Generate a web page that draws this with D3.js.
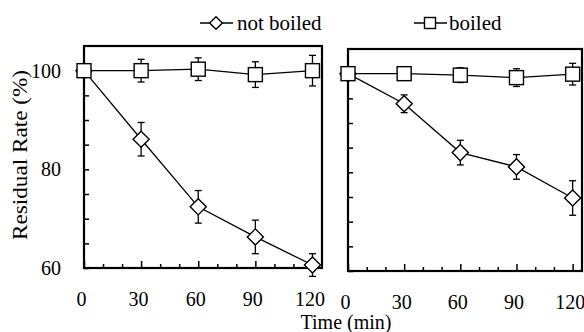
<!DOCTYPE html>
<html>
<head>
<meta charset="utf-8">
<script src="https://cdn.jsdelivr.net/npm/d3@7"></script>
<style>
  html, body { margin: 0; padding: 0; background: #fff; }
</style>
</head>
<body>
<div id="chart"></div>
<script>
// values
const times = [0, 30, 60, 90, 120];
const xTickLabels = [0, 30, 60, 90, 120];
const yTickLabels = [60, 80, 100];

const leftNotBoiled = [100, 86.1, 72.4, 66.3, 60.6];
const leftNotBoiledErr = [0, 3.4, 3.3, 3.4, 2.3];
const leftBoiled = [100, 100, 100.3, 99.2, 100];
const leftBoiledErr = [0, 2.3, 2.3, 2.6, 3.1];

const rightNotBoiled = [100, 93.9, 84, 81.1, 74.8];
const rightNotBoiledErr = [0, 1.8, 2.5, 2.5, 3.5];
const rightBoiled = [100, 100, 99.7, 99.2, 99.9];
const rightBoiledErr = [0, 1.2, 1.5, 1.8, 2.2];

const legendLabels = ['not boiled', 'boiled'];

const width = 584, height = 332;
const serif = "'Liberation Serif', 'Times New Roman', serif";

const svg = d3.select('#chart').append('svg')
  .attr('width', width)
  .attr('height', height)
  .style('font-family', serif);

// panel boxes (the scanned figure is slightly skewed, so each has its own box)
const panels = [
  { x0: 84, x1: 322, y0: 46, y1: 268, labels: true,
    series: [
      { vals: leftNotBoiled, err: leftNotBoiledErr, shape: 'diamond' },
      { vals: leftBoiled, err: leftBoiledErr, shape: 'square' },
    ] },
  { x0: 348, x1: 582, y0: 49, y1: 271, labels: false,
    series: [
      { vals: rightNotBoiled, err: rightNotBoiledErr, shape: 'diamond' },
      { vals: rightBoiled, err: rightBoiledErr, shape: 'square' },
    ] },
];

function marker(sel, shape, size) {
  const h = size / 2;
  if (shape === 'square') {
    sel.append('rect')
      .attr('x', -h).attr('y', -h)
      .attr('width', size).attr('height', size)
      .attr('fill', '#fff').attr('stroke', '#000').attr('stroke-width', 1.4);
  } else {
    const d = h * 1.15;
    sel.append('path')
      .attr('d', `M0,${-d}L${d},0L0,${d}L${-d},0Z`)
      .attr('fill', '#fff').attr('stroke', '#000').attr('stroke-width', 1.4);
  }
}

panels.forEach((p) => {
  const x = d3.scaleLinear().domain([0, 125]).range([p.x0, p.x1]);
  const y = d3.scaleLinear().domain([60, 105]).range([p.y1, p.y0]);

  const g = svg.append('g');

  // y axis, ticks every 5 pointing inwards
  const yAxis = g.append('g')
    .attr('transform', `translate(${p.x0},0)`)
    .call(d3.axisLeft(y)
      .tickValues(d3.range(60, 101, 5))
      .tickSizeInner(-5)
      .tickSizeOuter(0)
      .tickPadding(23)
      .tickFormat(d => (p.labels && yTickLabels.includes(d)) ? d : ''));
  yAxis.attr('font-family', null).attr('font-size', null);
  yAxis.select('.domain').remove();
  yAxis.selectAll('line').attr('stroke-width', 1.5);
  yAxis.selectAll('text')
    .style('font-family', serif)
    .style('font-size', '20px')
    .attr('fill', '#000');

  // x axis, ticks every 10 pointing inwards, longer at every 30
  const xAxis = g.append('g')
    .attr('transform', `translate(0,${p.y1})`)
    .call(d3.axisBottom(x)
      .tickValues(d3.range(0, 121, 10))
      .tickSizeInner(-4)
      .tickSizeOuter(0)
      .tickFormat(d => xTickLabels.includes(d) ? d : ''));
  xAxis.attr('font-family', null).attr('font-size', null);
  xAxis.select('.domain').remove();
  xAxis.selectAll('.tick line')
    .attr('stroke-width', 1.5)
    .attr('y2', d => (d % 30 === 0 ? -7 : -4));
  xAxis.selectAll('.tick text')
    .style('font-family', serif)
    .style('font-size', '20px')
    .attr('fill', '#000')
    .attr('dx', -3)
    .attr('y', 38)
    .attr('dy', 0);

  // frame
  g.append('rect')
    .attr('x', p.x0).attr('y', p.y0)
    .attr('width', p.x1 - p.x0).attr('height', p.y1 - p.y0)
    .attr('fill', 'none').attr('stroke', '#000').attr('stroke-width', 2.2);

  const line = d3.line()
    .x((d, i) => x(times[i]))
    .y(d => y(d));

  p.series.forEach((s) => {
    // error bars
    times.forEach((t, i) => {
      if (!s.err[i]) return;
      const cx = x(t);
      const top = y(s.vals[i] + s.err[i]);
      const bot = y(s.vals[i] - s.err[i]);
      g.append('line')
        .attr('x1', cx).attr('x2', cx).attr('y1', top).attr('y2', bot)
        .attr('stroke', '#000').attr('stroke-width', 1.3);
      [top, bot].forEach((yy) => {
        g.append('line')
          .attr('x1', cx - 3.5).attr('x2', cx + 3.5).attr('y1', yy).attr('y2', yy)
          .attr('stroke', '#000').attr('stroke-width', 1.3);
      });
    });

    g.append('path')
      .datum(s.vals)
      .attr('fill', 'none')
      .attr('stroke', '#000')
      .attr('stroke-width', 1.3)
      .attr('d', line);
  });

  p.series.forEach((s) => {
    s.vals.forEach((v, i) => {
      const m = g.append('g').attr('transform', `translate(${x(times[i])},${y(v)})`);
      marker(m, s.shape, 14);
    });
  });
});

// legend
const legendItems = [
  { label: legendLabels[0], shape: 'diamond', x: 200 },
  { label: legendLabels[1], shape: 'square', x: 414 },
];
legendItems.forEach((item) => {
  const lg = svg.append('g').attr('transform', `translate(${item.x},23)`);
  lg.append('line')
    .attr('x1', 0).attr('x2', 33).attr('y1', 0).attr('y2', 0)
    .attr('stroke', '#000').attr('stroke-width', 1.3);
  const m = lg.append('g').attr('transform', 'translate(16,0)');
  marker(m, item.shape, 11);
  lg.append('text')
    .attr('x', item.shape === 'diamond' ? 37 : 35)
    .attr('y', 7)
    .style('font-family', serif)
    .style('font-size', '21px')
    .attr('fill', '#000')
    .text(item.label);
});

// axis titles
svg.append('text')
  .attr('x', 346)
  .attr('y', 329)
  .attr('text-anchor', 'middle')
  .style('font-size', '20px')
  .attr('fill', '#000')
  .text('Time (min)');

svg.append('text')
  .attr('transform', 'translate(27,155) rotate(-90)')
  .attr('text-anchor', 'middle')
  .style('font-size', '20px')
  .attr('textLength', 170)
  .attr('lengthAdjust', 'spacingAndGlyphs')
  .attr('fill', '#000')
  .text('Residual Rate (%)');
</script>
</body>
</html>
